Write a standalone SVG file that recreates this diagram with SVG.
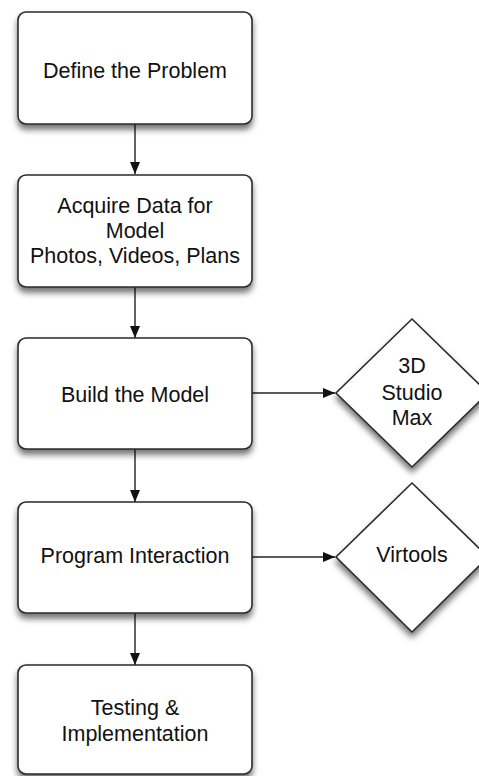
<svg xmlns="http://www.w3.org/2000/svg" width="479" height="776" viewBox="0 0 479 776">
<style>
.box{fill:#fff;stroke:#2a2a2a;stroke-width:1.6;filter:url(#sh)}
.t{font-family:"Liberation Sans",Arial,sans-serif;font-size:21.5px;fill:#111;text-anchor:middle}
.c{stroke:#222;stroke-width:1.4;fill:none;marker-end:url(#ah)}
</style>
<defs>
<filter id="sh" x="-20%" y="-20%" width="140%" height="150%">
<feDropShadow dx="0" dy="5" stdDeviation="3" flood-color="#000" flood-opacity="0.55"/>
</filter>
<marker id="ah" viewBox="0 0 12 10" refX="12" refY="5" markerWidth="12" markerHeight="10" markerUnits="userSpaceOnUse" orient="auto">
<path d="M0,0 L12,5 L0,10 Z" fill="#111"/>
</marker>
</defs>
<rect width="479" height="776" fill="#fff"/>
<g id="connectors">
<line class="c" x1="135" y1="124" x2="135" y2="174"/>
<line class="c" x1="135" y1="287" x2="135" y2="338"/>
<line class="c" x1="135" y1="449" x2="135" y2="502"/>
<line class="c" x1="135" y1="613" x2="135" y2="665"/>
<line class="c" x1="252" y1="393" x2="335" y2="393"/>
<line class="c" x1="252" y1="557" x2="335" y2="557"/>
</g>
<g id="define">
<rect class="box" x="18" y="12" width="234" height="112" rx="8"/>
<text class="t" x="135" y="77.5">Define the Problem</text>
</g>
<g id="acquire">
<rect class="box" x="18" y="175" width="234" height="112" rx="8"/>
<text class="t" x="135" y="213">Acquire Data for</text>
<text class="t" x="135" y="238">Model</text>
<text class="t" x="135" y="263">Photos, Videos, Plans</text>
</g>
<g id="build">
<rect class="box" x="18" y="338" width="234" height="111" rx="8"/>
<text class="t" x="135" y="402">Build the Model</text>
</g>
<g id="studio">
<polygon class="box" points="412,319 488,393 412,467 336,393"/>
<text class="t" x="412" y="373">3D</text>
<text class="t" x="412" y="399.5">Studio</text>
<text class="t" x="412" y="425">Max</text>
</g>
<g id="program">
<rect class="box" x="18" y="502" width="234" height="111" rx="8"/>
<text class="t" x="135" y="563">Program Interaction</text>
</g>
<g id="virtools">
<polygon class="box" points="412,483 488,557 412,632 336,557"/>
<text class="t" x="412" y="562">Virtools</text>
</g>
<g id="testing">
<rect class="box" x="18" y="665" width="234" height="109" rx="8"/>
<text class="t" x="135" y="715">Testing &amp;</text>
<text class="t" x="135" y="741">Implementation</text>
</g>
</svg>
